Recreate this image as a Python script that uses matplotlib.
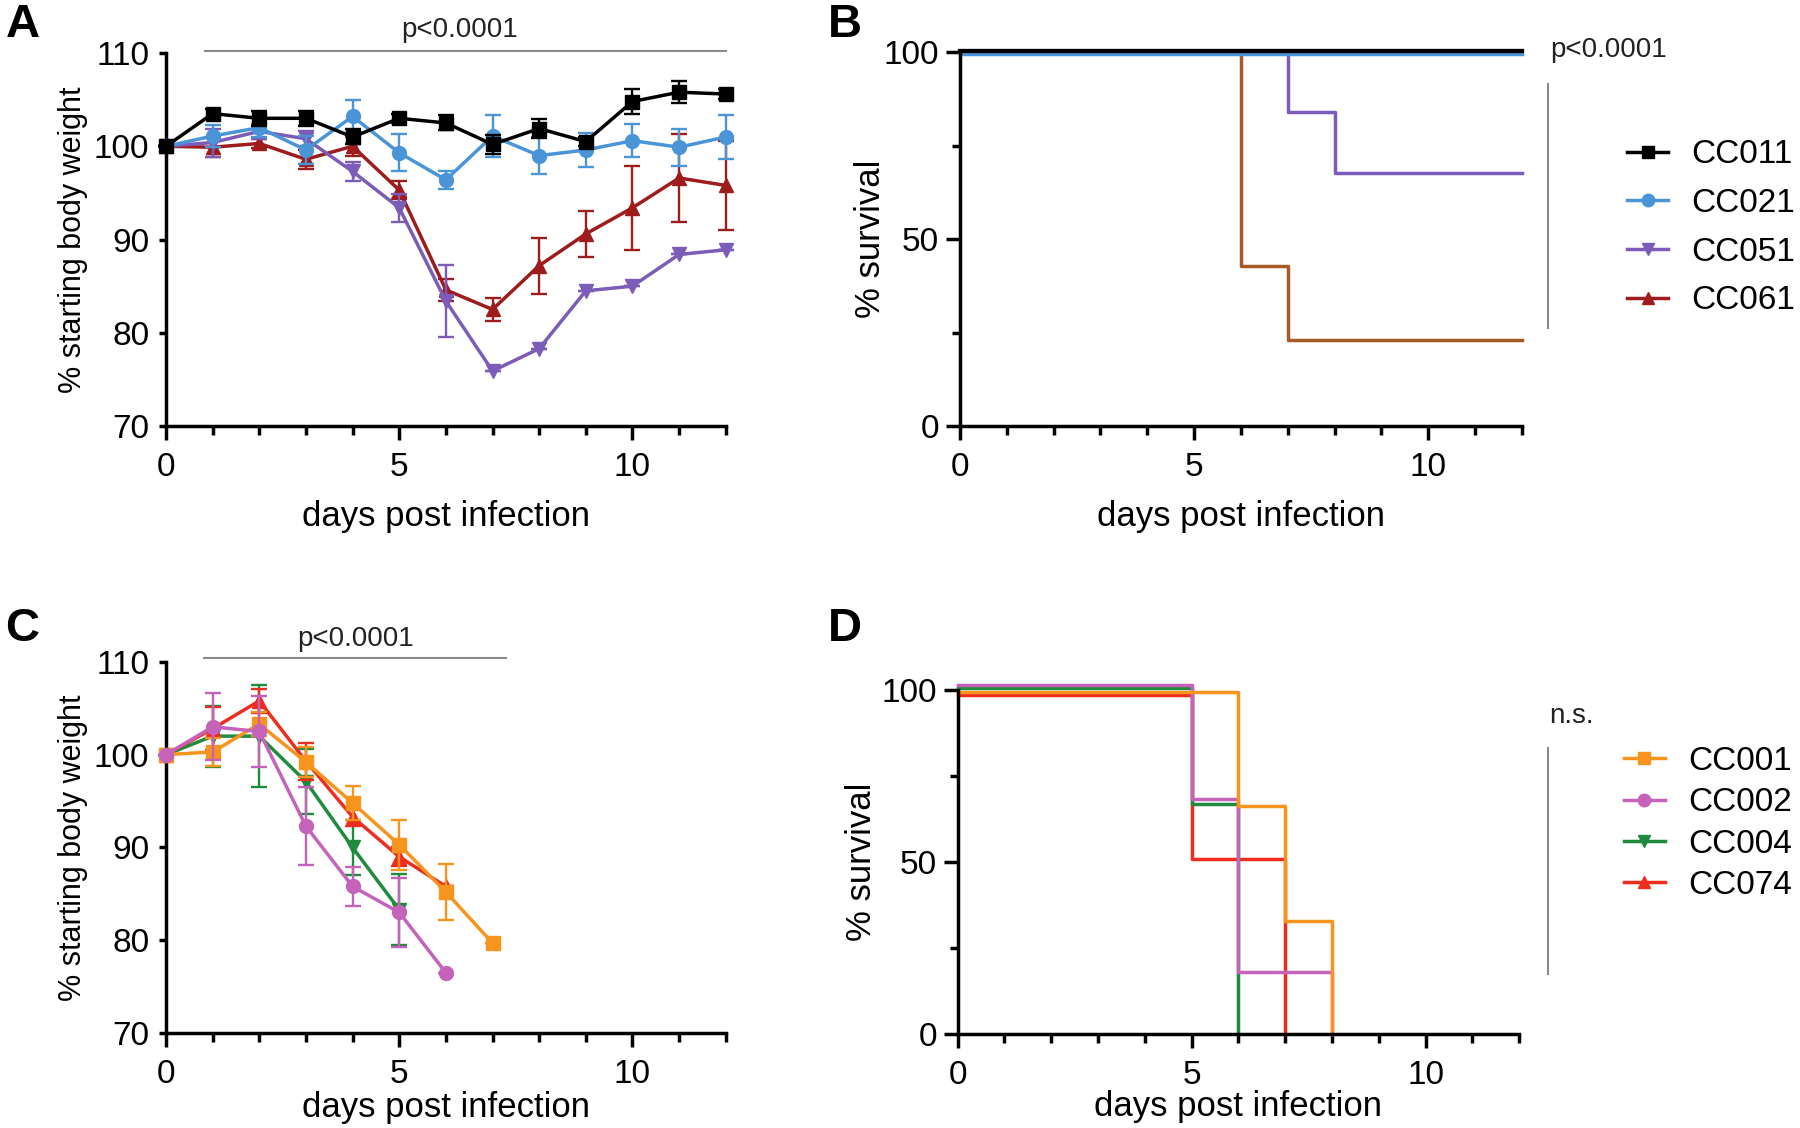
import matplotlib
matplotlib.use("Agg")
import matplotlib.pyplot as plt
from matplotlib.lines import Line2D
import numpy as np

plt.rcParams['font.family'] = ['Liberation Sans', 'DejaVu Sans']

days = np.arange(13)

# --- panel A: weight loss, CC011 / CC021 / CC051 / CC061
cc011_w = [100, 103.5, 103.0, 103.0, 101.0, 103.0, 102.5, 100.2, 101.9, 100.5, 104.8, 105.8, 105.6]
cc011_e = [0, 0.5, 0.8, 0.8, 0.8, 0.5, 0.8, 1.0, 1.0, 0.5, 1.3, 1.2, 0.5]
cc021_w = [100, 101.1, 102.0, 99.6, 103.2, 99.3, 96.4, 101.1, 99.0, 99.6, 100.6, 99.9, 101.0]
cc021_e = [0, 1.2, 1.0, 1.5, 1.8, 2.0, 1.0, 2.2, 2.0, 1.8, 1.8, 2.0, 2.4]
cc051_w = [100, 100.4, 101.6, 100.8, 97.3, 93.4, 83.4, 75.9, 78.3, 84.5, 85.0, 88.4, 88.9]
cc051_e = [0, 1.5, 0.8, 0.8, 1.0, 1.5, 3.9, 0, 0, 0, 0, 0, 0]
cc061_w = [100, 99.9, 100.3, 98.6, 100.0, 95.3, 84.6, 82.5, 87.2, 90.6, 93.4, 96.6, 95.8]
cc061_e = [0, 1.0, 0.5, 1.0, 1.0, 1.0, 1.2, 1.2, 3.0, 2.5, 4.5, 4.7, 4.8]

# --- panel B: survival (step curves)
b011_t, b011_s = [0, 12], [100.3, 100.3]
b021_t, b021_s = [0, 12], [99.6, 99.6]
b051_t, b051_s = [0, 7, 8, 12], [100, 84, 67.6, 67.6]
b061_t, b061_s = [0, 6, 7, 12], [100, 42.9, 22.9, 22.9]

# --- panel C: weight loss, CC001 / CC002 / CC004 / CC074
cc001_w = [100, 100.3, 103.3, 99.2, 94.8, 90.3, 85.2, 79.7]
cc001_e = [0, 1.5, 1.3, 1.6, 1.8, 2.7, 3.0, 0]
cc002_w = [100, 103.0, 102.5, 92.3, 85.8, 83.0, 76.5]
cc002_e = [0, 3.6, 3.8, 4.2, 2.1, 3.7, 0]
cc004_w = [100, 102.0, 102.0, 97.1, 90.0, 83.3]
cc004_e = [0, 3.3, 5.5, 3.5, 3.0, 3.8]
cc074_w = [100, 102.8, 105.8, 99.3, 93.3, 89.0, 85.8]
cc074_e = [0, 2.3, 1.3, 2.0, 1.0, 1.0, 0]

# --- panel D: survival
d001_t, d001_s = [0, 6, 7, 8], [99.5, 66.4, 32.8, 0]
d002_t, d002_s = [0, 5, 6, 8], [101.5, 68.3, 18.1, 0]
d004_t, d004_s = [0, 5, 6], [100.6, 66.8, 0]
d074_t, d074_s = [0, 5, 7], [98.5, 51, 0]

black, blue, purple, darkred, brown = '#000000', '#4A94D8', '#7B5CB8', '#9E1C1C', '#A65A28'
orange, orchid, green, red = '#F7941D', '#C562B9', '#1E8B3E', '#EE2D1E'

TFS = 24   # tick labels
XFS = 25   # x labels
LFS = 24   # legend
PFS = 20   # p values
LW = 2.5

fig = plt.figure(figsize=(18, 11.28), dpi=100)
axA = fig.add_axes([0.0922, 0.6223, 0.311, 0.3307])
axB = fig.add_axes([0.5333, 0.6223, 0.3122, 0.3315])
axC = fig.add_axes([0.0922, 0.0842, 0.311, 0.329])
axD = fig.add_axes([0.532, 0.0833, 0.312, 0.305])


def style(ax, ylim, yticks, yminor=None, ylen=5, ypad=7):
    for s in ['top', 'right']:
        ax.spines[s].set_visible(False)
    for s in ['left', 'bottom']:
        ax.spines[s].set_linewidth(LW)
    ax.set_xlim(0, 12)
    ax.set_ylim(*ylim)
    ax.set_xticks([0, 5, 10])
    ax.set_xticks(range(13), minor=True)
    ax.set_yticks(yticks)
    if yminor is not None:
        ax.set_yticks(yminor, minor=True)
    ax.tick_params(which='both', direction='out', width=LW, labelsize=TFS)
    ax.tick_params(axis='x', which='major', length=10, pad=9)
    ax.tick_params(axis='x', which='minor', length=6.5)
    ax.tick_params(axis='y', which='major', length=ylen, pad=ypad)
    ax.tick_params(axis='y', which='minor', length=6)


def wline(ax, w, e, color, marker, ms=10, z=3):
    x = days[:len(w)]
    ax.errorbar(x, w, yerr=e, color=color, marker=marker, ms=ms, lw=LW,
                elinewidth=1.7, capsize=5.5, capthick=1.7, clip_on=False, zorder=z)


def legend(ax, handles, labels, x, y, spacing):
    ax.legend(handles, labels, loc='center left', bbox_to_anchor=(x, y),
              bbox_transform=fig.transFigure, frameon=False, fontsize=LFS,
              handlelength=1.23, handletextpad=0.7, labelspacing=spacing,
              borderpad=0, borderaxespad=0)


# A
style(axA, (70, 110), [70, 80, 90, 100, 110])
wline(axA, cc061_w, cc061_e, darkred, '^', z=3)
wline(axA, cc051_w, cc051_e, purple, 'v', z=4)
wline(axA, cc021_w, cc021_e, blue, 'o', z=5)
wline(axA, cc011_w, cc011_e, black, 's', z=6)
axA.set_ylabel('% starting body weight', fontsize=22)
axA.set_xlabel('days post infection', fontsize=XFS)
axA.yaxis.set_label_coords(-0.139, 0.5)
axA.xaxis.set_label_coords(0.5, -0.198)
axA.plot([0.83, 12], [110.25, 110.25], color='#8a8a8a', lw=1.5, clip_on=False)
axA.text(6.3, 111.7, 'p<0.0001', fontsize=PFS, ha='center', va='baseline', color='#222222')

# B
style(axB, (0, 100), [0, 50, 100], [25, 75], ylen=10, ypad=5)
axB.plot(b061_t, b061_s, drawstyle='steps-post', color=brown, lw=LW, clip_on=False)
axB.plot(b051_t, b051_s, drawstyle='steps-post', color=purple, lw=LW, clip_on=False)
axB.plot(b021_t, b021_s, drawstyle='steps-post', color=blue, lw=LW, clip_on=False)
axB.plot(b011_t, b011_s, drawstyle='steps-post', color=black, lw=LW + 0.6, clip_on=False)
axB.set_ylabel('% survival', fontsize=XFS)
axB.set_xlabel('days post infection', fontsize=XFS)
axB.yaxis.set_label_coords(-0.130, 0.5)
axB.xaxis.set_label_coords(0.5, -0.198)
axB.plot([12.55, 12.55], [91.5, 26.2], color='#8a8a8a', lw=1.5, clip_on=False)
axB.text(12.6, 98.6, 'p<0.0001', fontsize=PFS, ha='left', va='baseline', color='#222222')
hB = [Line2D([], [], color=c, marker=m, ms=9, lw=LW) for c, m in
      [(black, 's'), (blue, 'o'), (purple, 'v'), (darkred, '^')]]
legend(axB, hB, ['CC011', 'CC021', 'CC051', 'CC061'], 0.904, 0.798, 0.53)

# C
style(axC, (70, 110), [70, 80, 90, 100, 110])
wline(axC, cc004_w, cc004_e, green, 'v', z=3)
wline(axC, cc074_w, cc074_e, red, '^', z=4)
wline(axC, cc001_w, cc001_e, orange, 's', z=5)
wline(axC, cc002_w, cc002_e, orchid, 'o', z=6)
axC.set_ylabel('% starting body weight', fontsize=22)
axC.set_xlabel('days post infection', fontsize=XFS)
axC.yaxis.set_label_coords(-0.139, 0.5)
axC.xaxis.set_label_coords(0.5, -0.155)
axC.plot([0.82, 7.29], [110.4, 110.4], color='#8a8a8a', lw=1.5, clip_on=False)
axC.text(4.07, 111.7, 'p<0.0001', fontsize=PFS, ha='center', va='baseline', color='#222222')

# D
style(axD, (0, 100), [0, 50, 100], [25, 75], ylen=10, ypad=5)
axD.plot(d074_t, d074_s, drawstyle='steps-post', color=red, lw=LW, clip_on=False)
axD.plot(d004_t, d004_s, drawstyle='steps-post', color=green, lw=LW, clip_on=False)
axD.plot(d002_t, d002_s, drawstyle='steps-post', color=orchid, lw=LW, clip_on=False)
axD.plot(d001_t, d001_s, drawstyle='steps-post', color=orange, lw=LW, clip_on=False)
axD.set_ylabel('% survival', fontsize=XFS)
axD.set_xlabel('days post infection', fontsize=XFS)
axD.yaxis.set_label_coords(-0.142, 0.5)
axD.xaxis.set_label_coords(0.5, -0.164)
axD.plot([12.61, 12.61], [83.2, 17.5], color='#8a8a8a', lw=1.5, clip_on=False)
axD.text(12.64, 92.4, 'n.s.', fontsize=PFS, ha='left', va='center', color='#222222')
hD = [Line2D([], [], color=c, marker=m, ms=9, lw=LW) for c, m in
      [(orange, 's'), (orchid, 'o'), (green, 'v'), (red, '^')]]
legend(axD, hD, ['CC001', 'CC002', 'CC004', 'CC074'], 0.902, 0.270, 0.31)

# panel letters
for lab, x, y in [('A', 0.003, 0.997), ('B', 0.46, 0.997), ('C', 0.003, 0.462), ('D', 0.46, 0.462)]:
    fig.text(x, y, lab, fontsize=34, fontweight='bold', ha='left', va='top')

fig.savefig('out.png', dpi=100)
